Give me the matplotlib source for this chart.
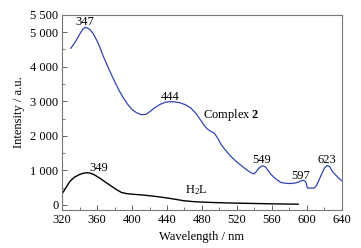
import matplotlib
matplotlib.use("Agg")
import matplotlib.pyplot as plt
from matplotlib.ticker import FuncFormatter, MultipleLocator

# Complex 2 emission spectrum
complex_wl = [330, 333, 337, 341, 344, 346.5, 349, 352, 355, 358, 362, 367, 373, 379, 385,
              390, 395, 400, 405, 411, 416, 421, 426, 432, 438, 444, 449, 455, 461, 467,
              473, 478, 482, 486, 490, 494, 498, 502, 507, 513, 519, 526, 532, 536, 539.5,
              542, 545, 548, 550, 553, 556, 559, 564, 570, 577, 583, 588, 592, 595, 597.5,
              599, 600.5, 603, 608, 611, 614, 617, 620, 623, 626, 629, 633, 637, 640]
complex_int = [4535, 4640, 4800, 4980, 5090, 5140, 5120, 5070, 4980, 4845, 4640, 4310, 3960, 3630, 3320,
               3100, 2910, 2760, 2670, 2610, 2620, 2710, 2810, 2910, 2970, 2990, 2980, 2955, 2900, 2810,
               2650, 2470, 2320, 2200, 2130, 2080, 1930, 1745, 1580, 1405, 1260, 1115, 1000, 930, 895,
               960, 1060, 1120, 1130, 1090, 980, 880, 760, 650, 620, 620, 640, 680, 710, 700,
               650, 490, 485, 485, 560, 727, 900, 1060, 1140, 1110, 970, 860, 760, 700]

# H2L emission spectrum
h2l_wl = [320, 324, 329, 334, 340, 345, 349, 352, 357, 363, 370, 377, 383, 388, 394, 400,
          410, 420, 430, 440, 450, 459, 470, 480, 500, 520, 540, 560, 575, 590]
h2l_int = [320, 480, 680, 800, 880, 920, 930, 920, 870, 775, 650, 530, 430, 358, 325, 310,
           290, 265, 235, 200, 160, 120, 95, 80, 62, 50, 40, 30, 25, 20]

xticks = [320, 360, 400, 440, 480, 520, 560, 600, 640]
yticks = [0, 1000, 2000, 3000, 4000, 5000, 5500]

plt.rcParams['font.family'] = ['Liberation Serif', 'DejaVu Serif']
plt.rcParams['mathtext.fontset'] = 'custom'
plt.rcParams['mathtext.rm'] = 'Liberation Serif'
plt.rcParams['mathtext.bf'] = 'Liberation Serif:bold'
plt.rcParams['mathtext.it'] = 'Liberation Serif:italic'

fig = plt.figure(figsize=(3.61, 2.48), dpi=100)
ax = fig.add_axes([0.172, 0.153, 0.775, 0.787])

ax.plot(complex_wl, complex_int, color='#3344b0', lw=0.9)
ax.plot(h2l_wl, h2l_int, color='black', lw=1.0)

ax.set_xlim(320, 640)
ax.set_ylim(-150, 5500)
ax.set_xticks(xticks)
ax.set_yticks(yticks)
ax.xaxis.set_minor_locator(MultipleLocator(20))
ax.yaxis.set_minor_locator(MultipleLocator(500))

def fmt(v, pos):
    return f"{int(v):,}".replace(",", " ")
ax.yaxis.set_major_formatter(FuncFormatter(fmt))

fs = 9
ax.tick_params(axis='both', which='major', direction='in', length=3.5, width=0.6,
               labelsize=fs, colors='#444444', labelcolor='black', pad=2.5)
ax.tick_params(axis='both', which='minor', direction='in', length=2, width=0.5, colors='#444444')
for sp in ax.spines.values():
    sp.set_color('#777777')
    sp.set_linewidth(0.8)

ax.set_xlabel('Wavelength / nm', fontsize=fs, labelpad=4)
ax.set_ylabel('Intensity / a.u.', fontsize=fs, labelpad=4)

ax.text(346.4, 5300, '347', fontsize=fs, ha='center', va='center')
ax.text(443.9, 3130, '444', fontsize=fs, ha='center', va='center')
ax.text(481.7, 2616, 'Complex $\\mathbf{2}$', fontsize=fs, ha='left', va='center')
ax.text(547.9, 1288, '549', fontsize=fs, ha='center', va='center')
ax.text(593, 823, '597', fontsize=fs, ha='center', va='center')
ax.text(622.8, 1288, '623', fontsize=fs, ha='center', va='center')
ax.text(361.6, 1067, '349', fontsize=fs, ha='center', va='center')
ax.text(461, 436, 'H$_2$L', fontsize=fs, ha='left', va='center')

fig.savefig('out.png', dpi=100)
